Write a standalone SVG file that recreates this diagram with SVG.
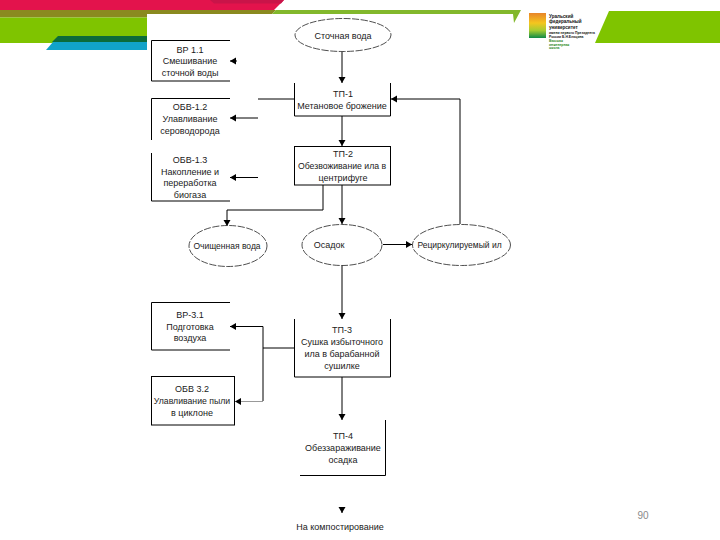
<svg xmlns="http://www.w3.org/2000/svg" width="720" height="540" viewBox="0 0 720 540">
<style>
text{font-family:"Liberation Sans",Arial,sans-serif;font-size:9px;fill:#1a1a1a;text-anchor:middle}
.b{fill:none;stroke:#000;stroke-width:1}
.e{fill:#fff;stroke:#222;stroke-width:.8;stroke-dasharray:7 1.5}
.c{fill:none;stroke:#000;stroke-width:1}
.l{font-size:4.6px;font-weight:bold;text-anchor:start;fill:#111}
.g{font-size:3.4px;font-weight:bold;text-anchor:start;fill:#2f8a2b}
</style>
<defs>
<marker id="a" markerUnits="userSpaceOnUse" markerWidth="8" markerHeight="8" refX="6" refY="3.5" orient="auto"><path d="M0 0L6 3.500L0 7z" fill="#000"/></marker>
<linearGradient id="lg" x1="0" y1="0" x2="0" y2="1"><stop offset="0" stop-color="#e8852a"/><stop offset=".4" stop-color="#f5c61e"/><stop offset=".7" stop-color="#a5cc32"/><stop offset="1" stop-color="#0f8a48"/></linearGradient>
</defs>
<rect width="720" height="540" fill="#fff"/>
<g id="header">
<path d="M0 0H284L274 10H0z" fill="#e3134c"/>
<path d="M210 0H284L281 3.500H214z" fill="#c91449"/>
<path d="M0 10H276L272 14H147V17.500H0z" fill="#8a8a20"/>
<path d="M276 10H521L514 23L513 14H272z" fill="#82b82c"/>
<rect y="17.500" width="147" height="25.500" fill="#7fc400"/>
<path d="M0 43H46L52 36H147V43z" fill="#7fc400"/>
<path d="M52 42L58 36H147V42z" fill="#0b6b3a"/>
<path d="M46 50L53 42H147V50z" fill="#11a3c9"/>
<path d="M609 11H720V43H595z" fill="#7fc400"/>
</g>
<g id="logo">
<rect x="529" y="13" width="17" height="25" fill="url(#lg)"/>
<text class="l" x="549" y="17.500">Уральский</text>
<text class="l" x="549" y="23">федеральный</text>
<text class="l" x="549" y="28.500">университет</text>
<text class="g" x="549" y="33.500" style="fill:#111">имени первого Президента</text>
<text class="g" x="549" y="37.500" style="fill:#111">России Б.Н.Ельцина</text>
<text class="g" x="549" y="42">Высшая</text>
<text class="g" x="549" y="45.500">инженерная</text>
<text class="g" x="549" y="49">школа</text>
</g>
<g id="connectors">
<path class="c" marker-end="url(#a)" d="M342 52V83"/>
<path class="c" marker-end="url(#a)" d="M342 116V146"/>
<path class="c" marker-end="url(#a)" d="M342 185V224"/>
<path class="c" marker-end="url(#a)" d="M323 185V210H227V226"/>
<path class="c" marker-end="url(#a)" d="M383 244.500H412"/>
<path class="c" marker-end="url(#a)" d="M460 224V99H391"/>
<path class="c" d="M295 99H258"/>
<path class="c" marker-end="url(#a)" d="M258 118H230"/>
<path class="c" marker-end="url(#a)" d="M258 177.500H230"/>
<path class="c" marker-end="url(#a)" d="M237 61H230"/>
<path class="c" marker-end="url(#a)" d="M342 265V319"/>
<path class="c" marker-end="url(#a)" d="M342 377V420"/>
<path class="c" d="M294 348H263"/>
<path class="c" marker-end="url(#a)" d="M263 348V326.500H230"/>
<path class="c" d="M263 348V401"/>
<path fill="none" stroke="#999" marker-end="url(#a)" d="M263 401.500H235"/>
<path class="c" marker-end="url(#a)" d="M342 507V513"/>
</g>
<g id="n-source"><ellipse class="e" cx="343" cy="35" rx="48" ry="16.500"/><text x="343" y="38.500">Сточная вода</text></g>
<g id="n-br11"><path class="b" d="M230 40.500H151.500V81H230"/><text x="190" y="52.500">ВР 1.1</text><text x="190" y="64">Смешивание</text><text x="190" y="76">сточной воды</text></g>
<g id="n-obv12"><path class="b" d="M230 98.500H151.500V140"/><text x="190" y="110">ОБВ-1.2</text><text x="190" y="122">Улавливание</text><text x="190" y="134">сероводорода</text></g>
<g id="n-obv13"><path class="b" d="M151.500 153V201H230"/><text x="190" y="163">ОБВ-1.3</text><text x="190" y="175">Накопление и</text><text x="190" y="186">переработка</text><text x="190" y="198">биогаза</text></g>
<g id="n-tp1"><path class="b" d="M294.500 83V116H390.500V83"/><text x="343" y="97">ТП-1</text><text x="342" y="109">Метановое брожение</text></g>
<g id="n-tp2"><rect class="b" x="294.500" y="146.500" width="96" height="38.500"/><text x="343" y="157">ТП-2</text><text x="342" y="169" style="font-size:8.700px">Обезвоживание ила в</text><text x="343" y="181">центрифуге</text></g>
<g id="n-clean"><ellipse class="e" cx="228" cy="246" rx="39" ry="20.500"/><text x="227" y="249" style="font-size:8.500px">Очищенная вода</text></g>
<g id="n-sludge"><ellipse class="e" cx="342" cy="245" rx="40" ry="20.500"/><text x="329" y="248">Осадок</text></g>
<g id="n-rec"><ellipse class="e" cx="461.500" cy="245" rx="49" ry="20.500"/><text x="459.500" y="248" style="font-size:8.500px">Рециркулируемый ил</text></g>
<g id="n-br31"><path class="b" d="M230 302.500H151.500V350H230"/><text x="190" y="318">ВР-3.1</text><text x="190" y="330">Подготовка</text><text x="190" y="341">воздуха</text></g>
<g id="n-obv32"><rect class="b" x="151.500" y="376.500" width="83" height="48.500"/><text x="192" y="392">ОБВ 3.2</text><text x="192" y="404" style="font-size:8.700px">Улавливание пыли</text><text x="192" y="416">в циклоне</text></g>
<g id="n-tp3"><path class="b" d="M294.500 319V377H390.500V319"/><text x="342" y="333">ТП-3</text><text x="342" y="345">Сушка избыточного</text><text x="342" y="357">ила в барабанной</text><text x="342" y="369">сушилке</text></g>
<g id="n-tp4"><path class="b" d="M300 475.500H385.500V420"/><text x="343" y="439">ТП-4</text><text x="343" y="451">Обеззараживание</text><text x="343" y="463">осадка</text></g>
<g id="n-compost"><text x="340" y="530">На компостирование</text></g>
<text x="643" y="519" style="font-size:10px;fill:#8a8a8a">90</text>
</svg>
